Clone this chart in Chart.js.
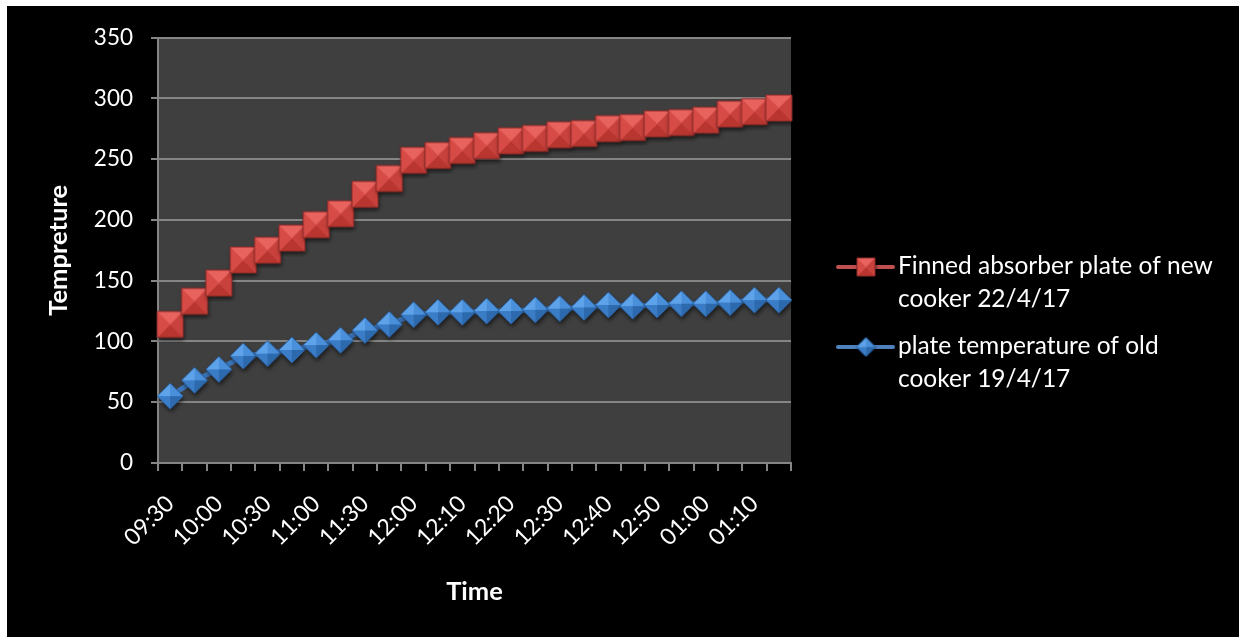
<!DOCTYPE html>
<html>
<head>
<meta charset="utf-8">
<script src="https://cdn.jsdelivr.net/npm/chart.js@4.4.1/dist/chart.umd.min.js"></script>
<style>
html, body { margin: 0; padding: 0; background: #fff; }
#wrapper { position: absolute; left: 7px; top: 6px; width: 1232px; height: 631px; background: #000; }
</style>
</head>
<body>
<div id="wrapper"><canvas id="myChart"></canvas></div>
<script>
// time of reading (only every second one is printed on the axis)
const times = ['09:30', '09:45', '10:00', '10:15', '10:30', '10:45', '11:00', '11:15', '11:30', '11:45',
               '12:00', '12:05', '12:10', '12:15', '12:20', '12:25', '12:30', '12:35', '12:40', '12:45',
               '12:50', '12:55', '01:00', '01:05', '01:10', '01:15'];

const newCooker = [114, 133, 148, 167, 175, 185, 196, 205, 221, 234, 249, 253, 257, 261, 265, 267,
                   270, 271, 275, 276, 279, 280, 282, 287, 289, 292];
const oldCooker = [55, 68, 77, 88, 90, 93, 97, 101, 109, 114, 122, 124, 124, 125, 125, 126,
                   127, 128, 130, 129, 130, 131, 131, 132, 134, 134];

const tempTicks = [0, 50, 100, 150, 200, 250, 300, 350];

const newLabel = ['Finned absorber plate of new', 'cooker 22/4/17'];
const oldLabel = ['plate temperature of old', 'cooker 19/4/17'];

const FONT = 'Lato';

// little 3d pyramid markers like excel draws them
function pyramidMarker(shape, size, faces, edge) {
    const pad = 6;
    const c = document.createElement('canvas');
    c.width = c.height = size + pad * 2;
    const g = c.getContext('2d');
    const m = c.width / 2, h = size / 2;
    let pts;
    if (shape === 'square') {
        pts = [[m - h, m - h], [m + h, m - h], [m + h, m + h], [m - h, m + h]];
    } else {
        pts = [[m, m - h], [m + h, m], [m, m + h], [m - h, m]];
    }
    const outline = () => {
        g.beginPath();
        pts.forEach((p, i) => i ? g.lineTo(p[0], p[1]) : g.moveTo(p[0], p[1]));
        g.closePath();
    };
    g.save();
    g.shadowColor = 'rgba(0,0,0,0.6)';
    g.shadowBlur = 4;
    g.shadowOffsetX = 1;
    g.shadowOffsetY = 3;
    outline();
    g.fillStyle = faces[0];
    g.fill();
    g.restore();
    for (let i = 0; i < 4; i++) {
        const a = pts[i], b = pts[(i + 1) % 4];
        g.beginPath();
        g.moveTo(m, m);
        g.lineTo(a[0], a[1]);
        g.lineTo(b[0], b[1]);
        g.closePath();
        g.fillStyle = faces[i];
        g.fill();
    }
    outline();
    g.strokeStyle = edge;
    g.lineWidth = 1;
    g.stroke();
    return c;
}

const redFaces = ['#e8635e', '#c9413c', '#b8362f', '#d74b46'];
const blueFaces = ['#4a8fd9', '#2d69ad', '#3a7cc6', '#5ea3ea'];

const redMark = pyramidMarker('square', 26, redFaces, '#8e2b28');
const blueMark = pyramidMarker('diamond', 26, blueFaces, '#2a5f9e');
const redMarkSmall = pyramidMarker('square', 18, redFaces, '#8e2b28');
const blueMarkSmall = pyramidMarker('diamond', 19, blueFaces, '#2a5f9e');

const plotBg = {
    id: 'plotBg',
    beforeDraw(chart) {
        const a = chart.chartArea;
        chart.ctx.save();
        chart.ctx.fillStyle = '#3f3f3f';
        chart.ctx.fillRect(a.left, a.top, a.right - a.left, a.bottom - a.top);
        chart.ctx.restore();
    }
};

// legend on the right with line + marker + wrapped text
const sideLegend = {
    id: 'sideLegend',
    afterDraw(chart) {
        const ctx = chart.ctx;
        const lineX = chart.chartArea.right + 47;
        const textX = lineX + 60;
        const entries = [
            { y: 261, color: '#c0504d', mark: redMarkSmall, text: newLabel },
            { y: 341, color: '#4f81bd', mark: blueMarkSmall, text: oldLabel }
        ];
        ctx.save();
        entries.forEach(e => {
            ctx.strokeStyle = e.color;
            ctx.lineWidth = 4;
            ctx.lineCap = 'round';
            ctx.beginPath();
            ctx.moveTo(lineX, e.y);
            ctx.lineTo(lineX + 55, e.y);
            ctx.stroke();
            ctx.drawImage(e.mark, lineX + 28 - e.mark.width / 2, e.y - e.mark.height / 2);
            ctx.fillStyle = '#ffffff';
            ctx.font = '24.5px ' + FONT;
            ctx.textBaseline = 'alphabetic';
            ctx.textAlign = 'left';
            e.text.forEach((t, i) => ctx.fillText(t, textX, e.y + 7 + i * 33));
        });
        ctx.restore();
    }
};

const ctx = document.getElementById('myChart');

new Chart(ctx, {
    type: 'line',
    data: {
        labels: times,
        datasets: [{
            label: newLabel.join(' '),
            data: newCooker,
            borderColor: '#c0504d',
            borderWidth: 4,
            pointStyle: redMark,
            pointRadius: 12,
            tension: 0
        }, {
            label: oldLabel.join(' '),
            data: oldCooker,
            borderColor: '#3c78be',
            borderWidth: 5,
            pointStyle: blueMark,
            pointRadius: 12,
            tension: 0
        }]
    },
    options: {
        responsive: true,
        maintainAspectRatio: false,
        animation: false,
        layout: { padding: { left: 0, top: 30, right: 448, bottom: 0 } },
        plugins: {
            legend: { display: false },
            tooltip: { enabled: false }
        },
        scales: {
            x: {
                offset: true,
                afterFit(scale) { scale.height = 174; },
                grid: { offset: true, drawOnChartArea: false, drawTicks: true, tickLength: 8, color: '#858585', lineWidth: 2 },
                border: { color: '#858585', width: 2 },
                ticks: {
                    autoSkip: false,
                    maxRotation: 45,
                    minRotation: 45,
                    padding: 19,
                    color: '#ffffff',
                    font: { family: FONT, size: 23 },
                    callback: function (val, i) {
                        return i % 2 === 0 ? this.getLabelForValue(val) : '';
                    }
                },
                title: {
                    display: true,
                    text: 'Time',
                    color: '#ffffff',
                    font: { family: FONT, size: 25.5, weight: 'bold' },
                    padding: { top: 0, bottom: 30 }
                }
            },
            y: {
                min: tempTicks[0],
                max: tempTicks[tempTicks.length - 1],
                afterFit(scale) { scale.width = 151; },
                grid: { color: '#858585', lineWidth: 2, tickLength: 7 },
                border: { color: '#858585', width: 2 },
                ticks: {
                    stepSize: tempTicks[1] - tempTicks[0],
                    padding: 18,
                    color: '#ffffff',
                    font: { family: FONT, size: 22.5 }
                },
                title: {
                    display: true,
                    text: 'Tempreture',
                    color: '#ffffff',
                    font: { family: FONT, size: 25.5, weight: 'bold' },
                    padding: { top: 36, bottom: 0 }
                }
            }
        }
    },
    plugins: [plotBg, sideLegend]
});
</script>
</body>
</html>
